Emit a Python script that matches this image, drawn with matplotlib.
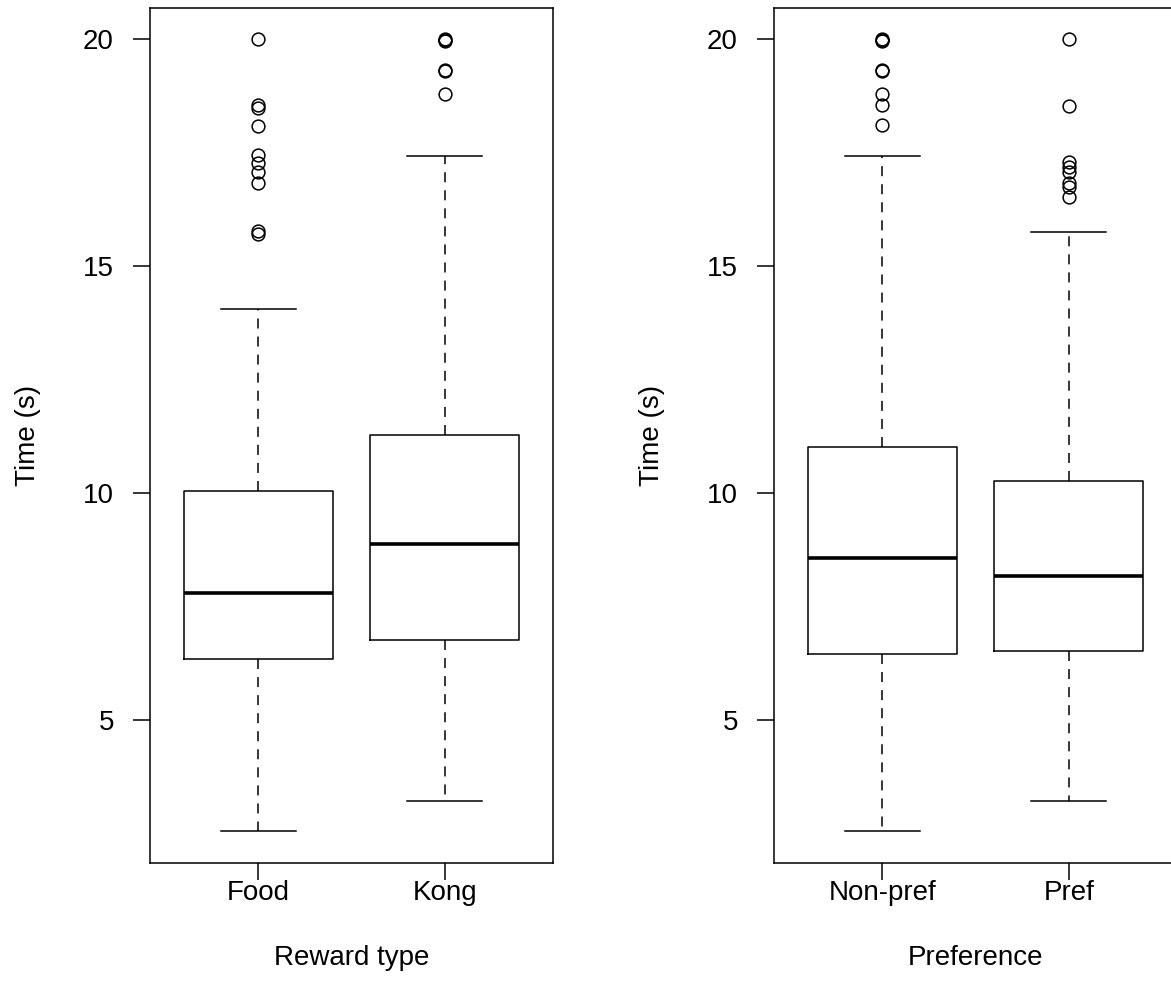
import matplotlib
matplotlib.use("Agg")
import matplotlib.pyplot as plt

plt.rcParams["font.family"] = ["Liberation Sans", "DejaVu Sans"]
plt.rcParams["lines.scale_dashes"] = False

# Panel 1: reward type
reward_labels = ["Food", "Kong"]
reward_q1 = [6.35, 6.77]
reward_median = [7.81, 8.88]
reward_q3 = [10.06, 11.29]
reward_whislo = [2.56, 3.22]
reward_whishi = [14.06, 17.43]
food_outliers = [20.0, 18.55, 18.48, 18.09, 17.45, 17.28, 17.08, 16.84, 15.78, 15.71]
kong_outliers = [20.0, 19.98, 19.95, 19.32, 19.30, 18.80]

# Panel 2: preference
pref_labels = ["Non-pref", "Pref"]
pref_q1 = [6.47, 6.53]
pref_median = [8.57, 8.19]
pref_q3 = [11.03, 10.27]
pref_whislo = [2.56, 3.22]
pref_whishi = [17.43, 15.75]
nonpref_outliers = [20.0, 19.98, 19.95, 19.32, 19.30, 18.80, 18.55, 18.12]
prefer_outliers = [20.0, 18.53, 17.30, 17.19, 17.08, 16.83, 16.75, 16.53]

W, H = 1171, 998
fig = plt.figure(figsize=(W / 100, H / 100), dpi=100)

LW = 1.1
FS = 20


def make_stats(labels, q1, med, q3, lo, hi, fliers):
    return [dict(label=l, q1=a, med=m, q3=b, whislo=w0, whishi=w1, fliers=f)
            for l, a, m, b, w0, w1, f in zip(labels, q1, med, q3, lo, hi, fliers)]


def panel(rect, stats, xlabel):
    ax = fig.add_axes(rect)
    ax.bxp(stats, positions=[1, 2], widths=0.8, showfliers=True,
           boxprops=dict(color="black", linewidth=LW),
           medianprops=dict(color="black", linewidth=2.6, solid_capstyle="butt"),
           whiskerprops=dict(color="black", linewidth=LW, linestyle=(0, (7.2, 5.8))),
           capprops=dict(color="black", linewidth=LW),
           capwidths=0.4,
           flierprops=dict(marker="o", markersize=9.2, markerfacecolor="none",
                           markeredgecolor="black", markeredgewidth=LW, linestyle="none"))
    vals = []
    for s in stats:
        vals += [s["whislo"], s["whishi"]] + list(s["fliers"])
    lo, hi = min(vals), max(vals)
    pad = 0.04 * (hi - lo)
    ax.set_ylim(lo - pad, hi + pad)
    ax.set_xlim(0.5 - 0.08, 2.5 + 0.08)
    ax.set_yticks([5, 10, 15, 20])
    ax.set_xticks([1, 2])
    ax.set_xticklabels([s["label"] for s in stats])
    ax.tick_params(axis="both", direction="out", length=12, width=LW,
                   labelsize=FS, color="black")
    ax.tick_params(axis="y", pad=14)
    ax.tick_params(axis="x", pad=0)
    for sp in ax.spines.values():
        sp.set_linewidth(LW)
        sp.set_color("black")
    ax.set_ylabel("Time (s)", fontsize=FS)
    ax.yaxis.set_label_coords(-0.27, 0.5)
    ax.set_xlabel(xlabel, fontsize=FS)
    ax.xaxis.set_label_coords(0.5, -0.096)
    return ax


ax_h = (863 - 7.5) / H
ax_b = (H - 863) / H
ax_w = 403 / W

panel([150 / W, ax_b, ax_w, ax_h],
      make_stats(reward_labels, reward_q1, reward_median, reward_q3,
                 reward_whislo, reward_whishi, [food_outliers, kong_outliers]),
      "Reward type")
panel([774 / W, ax_b, ax_w, ax_h],
      make_stats(pref_labels, pref_q1, pref_median, pref_q3,
                 pref_whislo, pref_whishi, [nonpref_outliers, prefer_outliers]),
      "Preference")

fig.savefig("out.png", dpi=100, facecolor="white")
